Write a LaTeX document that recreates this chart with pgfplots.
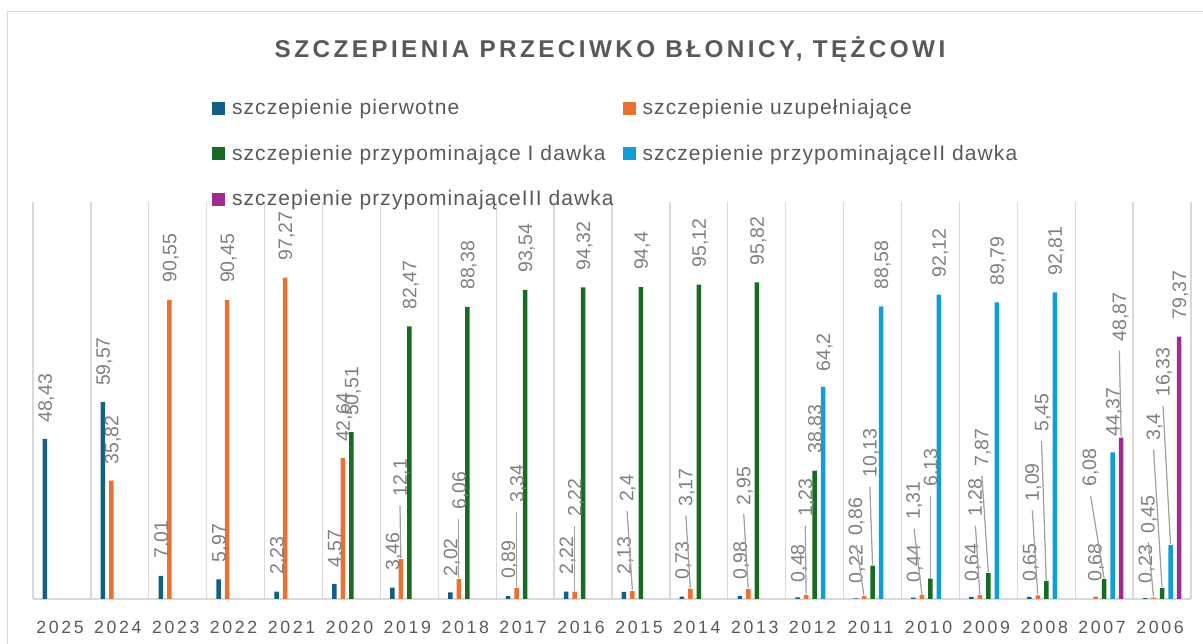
\documentclass[border=0pt]{standalone}
\usepackage{pgfplots}
\pgfplotsset{compat=1.18}
\usepackage{fontspec}
\setmainfont{Liberation Sans}
\newfontfamily\titlefont[LetterSpace=14]{Liberation Sans}
\newfontfamily\legfont[LetterSpace=5.2]{Liberation Sans}
\newfontfamily\tickfont[LetterSpace=15]{Liberation Sans}
\newfontfamily\labfont{Liberation Sans}
\definecolor{cA}{HTML}{156082}
\definecolor{cB}{HTML}{E97132}
\definecolor{cC}{HTML}{196B24}
\definecolor{cD}{HTML}{0F9ED5}
\definecolor{cE}{HTML}{A02B93}
\definecolor{txtgray}{HTML}{595959}
\definecolor{labgray}{HTML}{808080}
\definecolor{leadgray}{HTML}{A0A0A0}
\definecolor{gridgray}{HTML}{D9D9D9}

\pgfkeys{/pgf/number format/.cd, use comma, fixed, precision=2, assume math mode=true}

\pgfplotsset{
  lbl/.style={
    forget plot,
    nodes near coords,
    visualization depends on={value \thisrow{dx} \as \ldx},
    visualization depends on={value \thisrow{lift} \as \llift},
    visualization depends on={value \thisrow{ll} \as \lldr},
    every node near coord/.append style={
      shift={({(\ldx)*1pt},{(\llift)*1pt})}, rotate=90, anchor=west,
      inner sep=0pt, text height=14pt, text depth=0pt,
      font=\labfont\fontsize{19.5}{22}\selectfont, text=labgray,
      append after command/.expanded={\ifnum\lldr=1 (\noexpand\tikzlastnode.west) edge[draw=leadgray, line width=1.2pt, shorten <=9pt, shorten >=1pt] +({-1*(\ldx)*1pt},{-1*(\llift)*1pt})\fi}
    },
  },
}

\begin{document}
\begin{tikzpicture}
\path[use as bounding box] (0pt,0pt) rectangle (1203pt,644pt);
\draw[gridgray, line width=1pt] (7pt,-5pt) -- (7pt,632pt) -- (1215pt,632pt);
\node[anchor=base, inner sep=0pt, text=txtgray] at (610pt,586pt)
  {\titlefont\bfseries\fontsize{24.3}{28}\selectfont SZCZEPIENIA PRZECIWKO BŁONICY, TĘŻCOWI};
\begin{axis}[
  at={(33pt,45pt)}, anchor=south west,
  scale only axis, width=1158pt, height=396.5pt,
  ybar=4pt, bar width=4.5pt,
  xmin=-0.5, xmax=19.5, ymin=0, ymax=120,
  clip=false,
  axis x line*=bottom, axis y line=none,
  x axis line style={draw=gridgray, line width=1.3pt},
  xtick={0,...,19},
  xticklabels={2025,2024,2023,2022,2021,2020,2019,2018,2017,2016,2015,2014,2013,2012,2011,2010,2009,2008,2007,2006},
  major tick length=0pt, minor tick length=0pt,
  minor xtick={-0.5,0.5,...,19.5},
  xminorgrids=true,
  minor grid style={draw=gridgray, line width=1.3pt},
  xticklabel style={anchor=north, inner sep=0pt, text=txtgray, font=\tickfont\fontsize{17.7}{20}\selectfont, text height=12.7pt, text depth=0pt, yshift=-21.7pt, xshift=-2pt},
  ytick=\empty,
  legend columns=2,
  legend cell align=left,
  legend image code/.code={\fill[#1, draw=none] (0pt,-5pt) rectangle (13pt,8pt);},
  legend style={
    draw=none, fill=none, inner sep=0pt, outer sep=0pt,
    at={(0.1546,1.2585)}, anchor=north west,
    font=\legfont\fontsize{21}{25}\selectfont, text=txtgray,
    nodes={inner sep=0pt, text height=15pt, text depth=5pt},
    /tikz/every odd column/.append style={column sep=7pt},
    /tikz/every even column/.append style={column sep=9pt},
    row sep=25.5pt,
  },
]
\addlegendimage{fill=cA, draw=none}
\addlegendentry{szczepienie pierwotne}
\addlegendimage{fill=cB, draw=none}
\addlegendentry{szczepienie uzupełniające}
\addlegendimage{fill=cC, draw=none}
\addlegendentry{szczepienie przypominające I dawka}
\addlegendimage{fill=cD, draw=none}
\addlegendentry{szczepienie przypominająceII dawka}
\addlegendimage{fill=cE, draw=none}
\addlegendentry{szczepienie przypominająceIII dawka}
% x = category index (0 = 2025 ... 19 = 2006); dx, lift = label offset (px); ll = leader line
\addplot[fill=cA, draw=none, bar shift=-17pt, lbl] table[x=x, y=y] {
x y dx lift ll
0 48.43 0 16 0
1 59.57 0 16 0
2 7.01 0 17 0
3 5.97 0 17 0
4 2.23 0 17 0
5 4.57 0 16 0
6 3.46 0 17 0
7 2.02 0 16 0
8 0.89 0 17 0
9 2.22 0 17 0
10 2.13 0 17 0
11 0.73 0 17 0
12 0.98 0 16 0
13 0.48 0 15 0
14 0.22 0 15 0
15 0.44 0 15 0
16 0.64 0 15 0
17 0.65 0 15 0
19 0.23 0 15 0
};
\addplot[fill=cB, draw=none, bar shift=-8.5pt, lbl] table[x=x, y=y] {
x y dx lift ll
1 35.82 0 16 0
2 90.55 0 17 0
3 90.45 0 17 0
4 97.27 0 17 0
5 42.64 0 16 0
6 12.1 -1 62 1
7 6.06 0 69 1
8 3.34 0 85 1
9 2.22 0 75 1
10 2.4 -6 89 1
11 3.17 -5 82 1
12 2.95 -5 84 1
13 1.23 -1 78 1
14 0.86 -9 60 1
15 1.31 -9 75 1
16 1.28 -5 78 1
17 1.09 -6 94 1
18 0.68 -1 15 0
19 0.45 -6 64 1
};
\addplot[fill=cC, draw=none, bar shift=0pt, lbl] table[x=x, y=y] {
x y dx lift ll
5 50.51 0 16 0
6 82.47 0 17 0
7 88.38 0 17 0
8 93.54 0 17 0
9 94.32 0 17 0
10 94.4 0 17 0
11 95.12 0 17 0
12 95.82 0 17 0
13 38.83 0 17 0
14 10.13 -3 88 1
15 6.13 0 92 1
16 7.87 -7 106 1
17 5.45 -5 149 1
18 6.08 -15 92 1
19 3.4 -9 147 1
};
\addplot[fill=cD, draw=none, bar shift=8.5pt, lbl] table[x=x, y=y] {
x y dx lift ll
13 64.2 0 15 0
14 88.58 0 17 0
15 92.12 0 17 0
16 89.79 0 17 0
17 92.81 0 17 0
18 44.37 0 16 0
19 16.33 -8 148 1
};
\addplot[fill=cE, draw=none, bar shift=17pt, lbl] table[x=x, y=y] {
x y dx lift ll
18 48.87 -2 96 1
19 79.37 0 17 0
};
\end{axis}
\end{tikzpicture}
\end{document}
